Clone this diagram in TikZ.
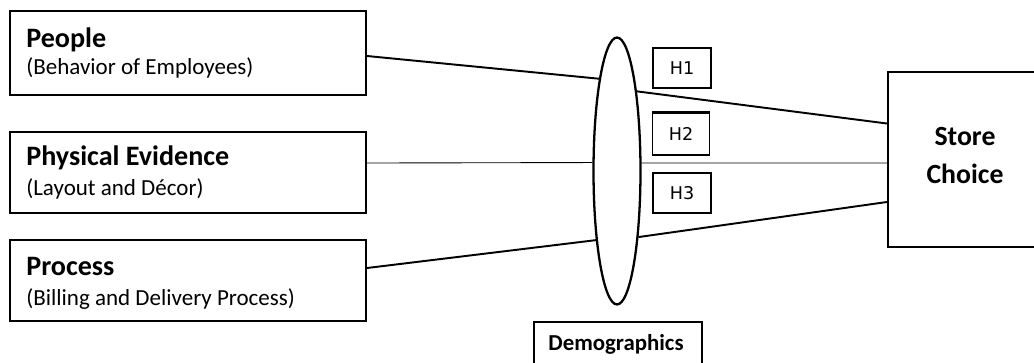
\documentclass[tikz,border=0pt]{standalone}
\usepackage{fontspec}
\setmainfont{Carlito}
\newfontfamily\hfont{DejaVu Sans}
\usetikzlibrary{shapes.geometric}

\tikzset{
  factorbox/.style={draw, line width=1.2pt, rectangle, inner sep=0pt,
                    minimum width=7.12cm, minimum height=1.62cm},
  hypbox/.style={draw, line width=1pt, rectangle, inner sep=0pt,
                 minimum width=1.16cm, minimum height=0.8cm, font=\hfont\fontsize{10}{12}\selectfont},
  titletext/.style={anchor=base west, inner sep=0pt, font=\bfseries\fontsize{16}{19}\selectfont},
  subtext/.style={anchor=base west, inner sep=0pt, font=\fontsize{13.1}{15}\selectfont},
  link/.style={line width=1.1pt},
  thinlink/.style={line width=0.5pt},
}

\begin{document}
\begin{tikzpicture}[x=0.02cm, y=-0.02cm]
  \useasboundingbox (0,0) rectangle (1034,362);
  \clip (0,0) rectangle (1034,362);

  % factor boxes
  \node[factorbox, minimum height=1.68cm] (people) at (188,53) {};
  \node[factorbox] (physical) at (188,172.5) {};
  \node[factorbox] (process) at (188,280.5) {};

  \node[titletext] (peopleT) at (26,47) {People};
  \node[subtext] (peopleS) at (26,74) {(Behavior of Employees)};
  \node[titletext] (physicalT) at (26,165) {Physical Evidence};
  \node[subtext] (physicalS) at (26,195) {(Layout and Décor)};
  \node[titletext] (processT) at (26,275) {Process};
  \node[subtext] (processS) at (26,305) {(Billing and Delivery Process)};

  % moderating lens
  \node[draw, ellipse, line width=1.3pt, inner sep=0pt,
        minimum width=0.94cm, minimum height=5.34cm] (lens) at (617,171) {};

  % hypothesis labels
  \node[hypbox] (h1) at (682,68) {H1};
  \node[hypbox, minimum width=1.14cm, minimum height=0.84cm] (h2) at (681,134) {H2};
  \draw[line width=1.8pt] (h2.north west) -- (h2.north east);
  \node[hypbox] (h3) at (682,193) {H3};

  % outcome
  \node[draw, line width=1.2pt, rectangle, inner sep=0pt,
        minimum width=3.08cm, minimum height=3.5cm] (store) at (965,159.5) {};
  \node[anchor=base, inner sep=0pt, align=center,
        font=\bfseries\fontsize{15.8}{21.6}\selectfont] (storeT) at (965,183)
        {Store\\Choice};

  % moderator
  \node[draw, line width=1.2pt, rectangle, inner sep=0pt,
        minimum width=3.36cm, minimum height=1.2cm, anchor=north west] (demo) at (533,321) {};
  \node[anchor=base, inner sep=0pt, font=\bfseries\fontsize{13}{15}\selectfont]
        (demoT) at (616,350) {Demographics};

  % paths through the moderator
  \draw[link] ([yshift=-0.06cm]people.east) -- (lens.101.7);
  \draw[link] (lens.76.3) -- ([yshift=0.72cm]store.west);
  \draw[thinlink] ([yshift=0.19cm]physical.east) -- (lens.161.2);
  \draw[thinlink] (lens.18.8) -- ([yshift=-0.07cm]store.west);
  \draw[link] ([yshift=0.25cm]process.east) -- (lens.253.5);
  \draw[link] (lens.288.9) -- ([yshift=-0.85cm]store.west);
\end{tikzpicture}
\end{document}
